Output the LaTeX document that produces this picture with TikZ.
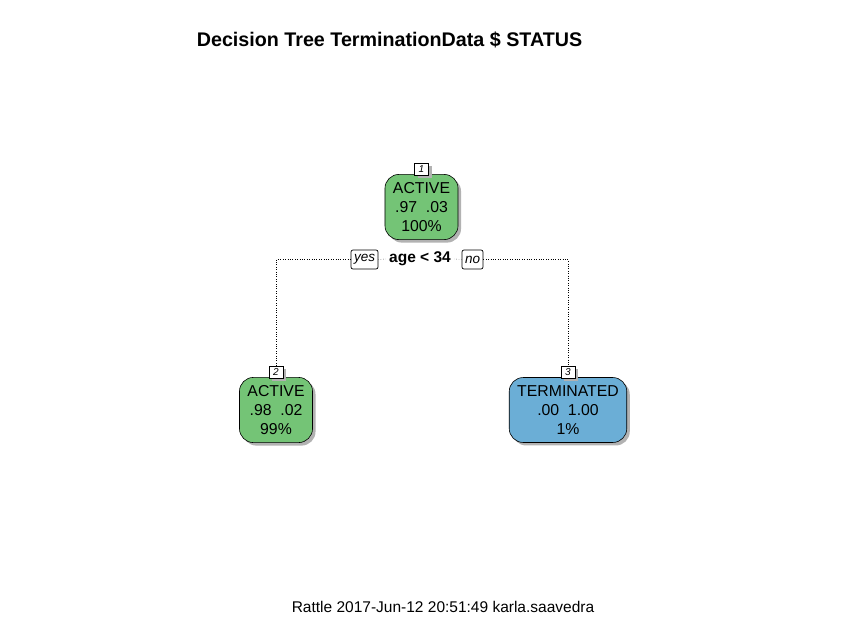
\documentclass[tikz,border=0pt]{standalone}
\usepackage{fontspec}
\setmainfont{Liberation Sans}
\usetikzlibrary{positioning,shadows}

\definecolor{verde}{HTML}{74C476}
\definecolor{azul}{HTML}{6BAED6}

\tikzset{
  sombra/.style={drop shadow={shadow xshift=3pt, shadow yshift=-3pt, fill=black!30, opacity=1}},
  hoja/.style={draw, line width=0.6pt, rounded corners=14pt, align=center, inner xsep=8pt, inner ysep=8pt,
    font=\fontsize{15.8}{19}\selectfont, sombra},
  numero/.style={draw, line width=0.6pt, fill=white, font=\fontsize{10}{10}\selectfont\itshape, inner sep=1pt,
    minimum width=14pt, minimum height=12pt, sombra},
  rama/.style={draw, line width=0.7pt, fill=white, rounded corners=2pt, font=\fontsize{13.5}{13.5}\selectfont\itshape,
    minimum height=19pt, inner xsep=3pt},
  linea/.style={dotted, thin}
}

\begin{document}
\begin{tikzpicture}[x=1pt,y=-1pt]
\useasboundingbox (0,0) rectangle (850,619);

% Titulo
\node[font=\bfseries\fontsize{19.7}{19.7}\selectfont] (titulo) at (389.5,40) {Decision Tree TerminationData \$ STATUS};

% Dibuja los nodos del arbol
\node[hoja, fill=verde] (raiz) at (421.5,207) {ACTIVE\\.97\ \ .03\\100\%};
\node[hoja, fill=verde] (hoja2) at (276,410) {ACTIVE\\.98\ \ .02\\99\%};
\node[hoja, fill=azul] (hoja3) at (568,410) {TERMINATED\\.00\ \ 1.00\\1\%};

% Numeros de los nodos
\node[numero, above=-1pt of raiz] (num1) {1};
\node[numero, above=-1pt of hoja2] (num2) {2};
\node[numero, above=-1pt of hoja3] (num3) {3};

% Etiqueta de la division
\node[font=\bfseries\fontsize{15.5}{15.5}\selectfont, inner xsep=3pt] (corte) at (420,259) {age < 34};
\node[rama] (si) at (364.5,259.5) {yes};
\node[rama] (no) at (472.5,259.5) {no};

% Dibuja las ramas
\draw[linea] (num2.north) |- (si.west);
\draw[linea] (si.east) -- (corte.west);
\draw[linea] (corte.east) -- (no.west);
\draw[linea] (no.east) -| (num3.north);

% Pie
\node[font=\fontsize{15.5}{15.5}\selectfont] (pie) at (443,607) {Rattle 2017-Jun-12 20:51:49 karla.saavedra};

\end{tikzpicture}
\end{document}
